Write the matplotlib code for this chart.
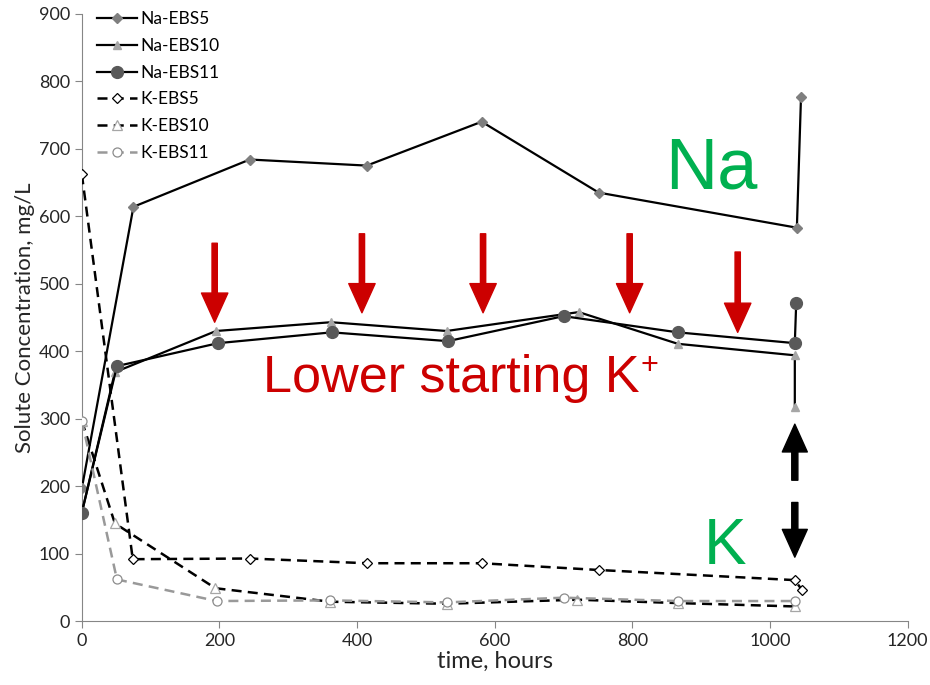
import matplotlib
matplotlib.use('Agg')
import matplotlib.pyplot as plt

plt.rcParams['font.family'] = ['Lato', 'DejaVu Sans']

# sampling times (hours) and concentrations (mg/L)
t_na5 = [0, 75, 244, 414, 581, 751, 1039, 1045]
na5 = [197, 614, 684, 675, 740, 635, 583, 777]
t_na10 = [0, 48, 195, 362, 530, 722, 866, 1036, 1036]
na10 = [161, 369, 430, 443, 430, 458, 411, 394, 317]
t_na11 = [0, 51, 198, 363, 532, 700, 866, 1036, 1038]
na11 = [161, 378, 412, 428, 415, 452, 428, 412, 471]
t_k5 = [0, 74, 244, 414, 581, 751, 1036, 1046]
k5 = [662, 92, 93, 86, 86, 76, 61, 47]
t_k10 = [0, 48, 194, 361, 530, 720, 866, 1036]
k10 = [297, 145, 49, 29, 26, 32, 27, 22]
t_k11 = [0, 51, 196, 361, 530, 700, 866, 1036]
k11 = [297, 62, 30, 31, 28, 35, 30, 30]

# red "lower starting K+" arrows: x, top, tip
red_x = [193, 407, 583, 796, 953]
red_top = [560, 574, 574, 574, 547]
red_tip = [443, 457, 457, 457, 428]

fig = plt.figure(figsize=(9.3, 6.85), dpi=100)
ax = fig.add_axes([0.088, 0.093, 0.888, 0.887])

ax.plot(t_na5, na5, '-', color='black', lw=1.6, marker='D', ms=5.5,
        mfc='#7f7f7f', mec='#7f7f7f', label='Na-EBS5', zorder=3)
ax.plot(t_na10, na10, '-', color='black', lw=1.6, marker='^', ms=5.5,
        mfc='#a6a6a6', mec='#a6a6a6', label='Na-EBS10', zorder=3)
ax.plot(t_na11, na11, '-', color='black', lw=1.6, marker='o', ms=8.5,
        mfc='#595959', mec='#595959', label='Na-EBS11', zorder=3)
ax.plot(t_k5, k5, '--', color='black', lw=1.8, dashes=(4, 2.5), marker='D', ms=5.5,
        mfc='white', mec='black', mew=0.9, label='K-EBS5', zorder=3)
ax.plot(t_k10, k10, '--', color='black', lw=1.8, dashes=(4, 2.5), marker='^', ms=7,
        mfc='white', mec='#a6a6a6', mew=0.9, label='K-EBS10', zorder=3)
ax.plot(t_k11, k11, '--', color='#999999', lw=1.8, dashes=(4, 2.5), marker='o', ms=6.5,
        mfc='white', mec='#8c8c8c', mew=0.9, label='K-EBS11', zorder=3)

for x, y0, y1 in zip(red_x, red_top, red_tip):
    ax.annotate('', xy=(x, y1), xytext=(x, y0),
                arrowprops=dict(arrowstyle='simple,head_width=0.95,head_length=1.05,tail_width=0.19',
                                mutation_scale=20, color='#cc0000', shrinkA=0, shrinkB=0))

# black double arrow between Na and K at the end
ax.annotate('', xy=(1036, 292), xytext=(1036, 209),
            arrowprops=dict(arrowstyle='simple,head_width=0.9,head_length=1.0,tail_width=0.22',
                            mutation_scale=20, color='black', shrinkA=0, shrinkB=0))
ax.annotate('', xy=(1036, 95), xytext=(1036, 176),
            arrowprops=dict(arrowstyle='simple,head_width=0.9,head_length=1.0,tail_width=0.22',
                            mutation_scale=20, color='black', shrinkA=0, shrinkB=0))

big = ['Liberation Sans', 'DejaVu Sans']
ax.text(915, 668, 'Na', color='#00b050', fontsize=52, family=big, ha='center', va='center')
ax.text(935, 110, 'K', color='#00b050', fontsize=46, family=big, ha='center', va='center')
ax.text(263, 360, 'Lower starting K', color='#cc0000', fontsize=37.5, family=big,
        ha='left', va='center')
ax.text(812, 378, '+', color='#cc0000', fontsize=22, family=big, ha='left', va='center')

ax.set_xlim(0, 1200)
ax.set_ylim(0, 900)
ax.set_xticks(range(0, 1201, 200))
ax.set_yticks(range(0, 901, 100))
for s in ['top', 'right']:
    ax.spines[s].set_visible(False)
for s in ['left', 'bottom']:
    ax.spines[s].set_color('#868686')
ax.tick_params(colors='#868686', labelcolor='#262626', labelsize=13, length=5)
ax.set_xlabel('time, hours', fontsize=17, color='#262626', labelpad=1)
ax.set_ylabel('Solute Concentration, mg/L', fontsize=16, color='#262626', labelpad=3)

leg = ax.legend(loc='upper left', bbox_to_anchor=(0.0, 1.03), frameon=False,
                fontsize=12.5, handlelength=2.3, labelspacing=0.62, handletextpad=0.15)

plt.savefig('out.png', dpi=100)
plt.close()
